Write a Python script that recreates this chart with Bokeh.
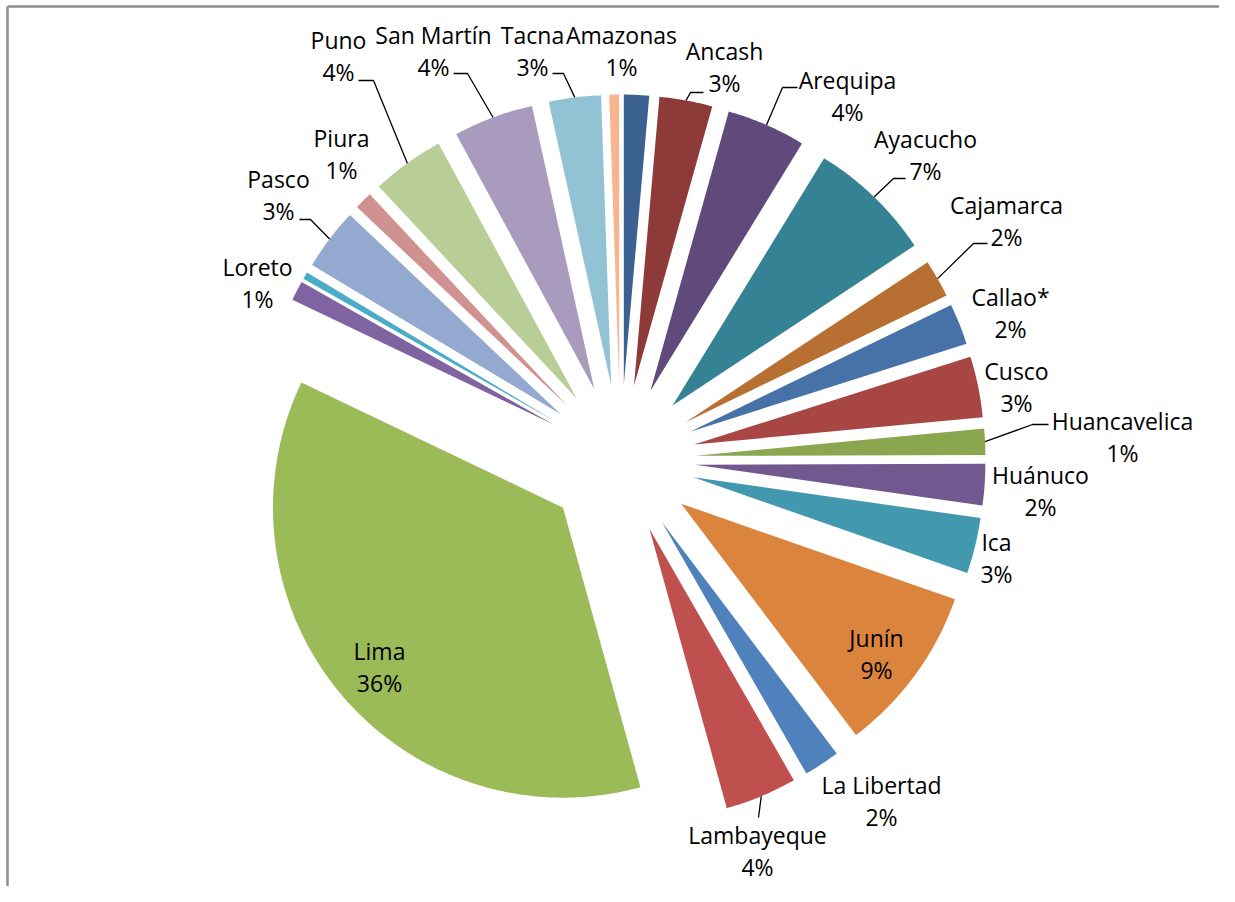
import numpy as np
from bokeh.plotting import figure
from bokeh.models import Range1d
from bokeh.embed import file_html
from bokeh.resources import INLINE
from bokeh.core.properties import value

# ---------------- data ----------------
regions = ["Amazonas", "Ancash", "Arequipa", "Ayacucho", "Cajamarca", "Callao*",
           "Cusco", "Huancavelica", "Huánuco", "Ica", "Junín", "La Libertad",
           "Lambayeque", "Lima", "Loreto", "Madre de Dios", "Pasco", "Piura",
           "Puno", "San Martín", "Tacna", "Tumbes"]
shares = [1.4, 2.95, 4.4, 6.95, 2.1, 2.3,
          3.4, 1.45, 2.3, 3.1, 9.35, 2.0,
          4.0, 36.4, 1.1, 0.4, 3.45, 1.0,
          4.05, 4.45, 2.9, 0.55]
labelled = [True] * 15 + [False] + [True] * 5 + [False]

colors = ["#3A6190", "#8E3A38", "#5F4A7B", "#358294", "#B86F32", "#4672A8",
          "#A84643", "#8AA64F", "#71588F", "#4198AF", "#DB843D", "#4F81BD",
          "#C0504D", "#9BBB59", "#8064A2", "#4BACC6", "#93A9CF", "#D09291",
          "#B9CD96", "#A99BBD", "#92C3D5", "#F9B590"]

# ---------------- layout ----------------
CX, CY = 620.0, 459.0      # pie centre (px)
R = 290.0                  # radius
D = 75.0                   # explosion distance
LINE_GAP = 32
TEXT_DY = -9               # renderer baseline correction

label_pos = {
    "Amazonas": (621, 43), "Ancash": (724, 59), "Arequipa": (847, 88),
    "Ayacucho": (925, 147), "Cajamarca": (1006, 213), "Callao*": (1010, 305),
    "Cusco": (1016, 379), "Huancavelica": (1122, 429), "Huánuco": (1040, 483),
    "Ica": (996, 550), "Junín": (876, 646), "La Libertad": (881, 793),
    "Lambayeque": (757, 843), "Lima": (379, 659), "Loreto": (257, 275),
    "Pasco": (278, 187), "Piura": (341, 146), "Puno": (338, 48),
    "San Martín": (433, 43), "Tacna": (532, 43),
}
leader_pts = {
    "Puno": [(358, 80), (373, 80)],
    "San Martín": [(453, 73), (467, 73)],
    "Tacna": [(552, 73), (563, 73)],
    "Ancash": [(703, 92), (690, 92)],
    "Arequipa": [(797, 87), (782, 87)],
    "Ayacucho": [(905, 178), (893, 178)],
    "Cajamarca": [(987, 243), (973, 243)],
    "Huancavelica": [(1048, 424), (1032, 424)],
    "Lambayeque": [(758, 817)],
    "Pasco": [(299, 219), (310, 219)],
}

W, H = 1219, 886
p = figure(width=W, height=H, x_range=Range1d(0, W), y_range=Range1d(H, 0),
           output_backend="svg", toolbar_location=None, min_border=0,
           x_axis_location=None, y_axis_location=None)
p.grid.visible = False
p.outline_line_color = None
p.background_fill_color = "white"
p.border_fill_color = "white"

# frame (top and left edges of the chart area)
p.line([7, 7], [H, 6], line_color="#8E8E8E", line_width=2.5)
p.line([7, W], [6, 6], line_color="#8E8E8E", line_width=2.5)

vals = np.array(shares, dtype=float)
frac = vals / vals.sum()
edges = np.concatenate([[0.0], np.cumsum(frac)]) * 2 * np.pi
mids = (edges[:-1] + edges[1:]) / 2


def u(t):
    return np.sin(t), -np.cos(t)


xs, ys = [], []
for i in range(len(vals)):
    ux, uy = u(mids[i])
    ax, ay = CX + D * ux, CY + D * uy
    n = max(int((edges[i + 1] - edges[i]) / 0.01), 3)
    th = np.linspace(edges[i], edges[i + 1], n)
    px = np.concatenate([[ax], ax + R * np.sin(th)])
    py = np.concatenate([[ay], ay - R * np.cos(th)])
    xs.append(list(px))
    ys.append(list(py))
p.patches(xs, ys, fill_color=colors, line_color=None)

# leader lines
lx, ly = [], []
for i, name in enumerate(regions):
    if name in leader_pts:
        ux, uy = u(mids[i])
        end = (CX + (D + R) * ux, CY + (D + R) * uy)
        pts = leader_pts[name] + [end]
        lx.append([q[0] for q in pts])
        ly.append([q[1] for q in pts])
p.multi_line(lx, ly, line_color="black", line_width=1.3)

# labels
nx, ny, nt, qx, qy, qt = [], [], [], [], [], []
for i, name in enumerate(regions):
    if not labelled[i]:
        continue
    x, y = label_pos[name]
    pct = int(frac[i] * 100 + 0.5)
    nx.append(x); ny.append(y + TEXT_DY); nt.append(name)
    qx.append(x); qy.append(y + LINE_GAP + TEXT_DY); qt.append(f"{pct}%")

for X, Y, T in ((nx, ny, nt), (qx, qy, qt)):
    p.text(X, Y, text=T, text_font=value("Open Sans"), text_font_size="23px",
           text_align="center", text_baseline="alphabetic", text_color="black")

open("out.html", "w").write(file_html(p, INLINE))
